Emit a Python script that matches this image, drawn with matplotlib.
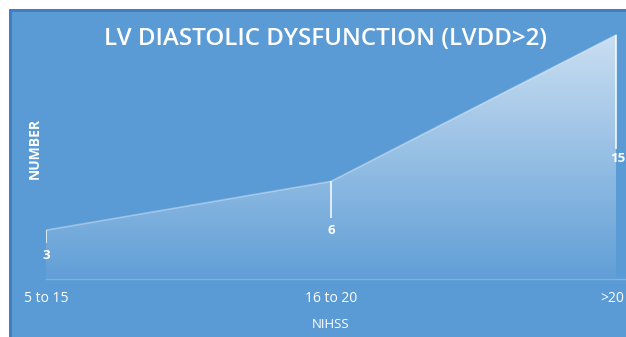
import numpy as np
import matplotlib
matplotlib.use("Agg")
import matplotlib.pyplot as plt
from matplotlib.patches import Rectangle, Polygon

# Data
categories = ["5 to 15", "16 to 20", ">20"]
values = [3, 6, 15]
title = "LV DIASTOLIC DYSFUNCTION (LVDD>2)"
x_title = "NIHSS"
y_title = "NUMBER"

W, H = 626, 337
BG = "#5B9BD5"
BORDER = "#3E7FC1"
FONT = ["Open Sans", "DejaVu Sans"]

fig = plt.figure(figsize=(W / 100, H / 100), dpi=100)
fig.patch.set_facecolor("white")

# Slide panel with darker frame on top/left
for rect in [
    Rectangle((10 / W, 0), 1, (H - 10) / H, facecolor=BG),
    Rectangle((9 / W, 0), 3 / W, (H - 9) / H, facecolor=BORDER),
    Rectangle((9 / W, (H - 12) / H), 1, 3 / H, facecolor=BORDER),
]:
    rect.set_transform(fig.transFigure)
    rect.set_edgecolor("none")
    rect.set_zorder(-5)
    fig.patches.append(rect)

x = np.arange(len(categories))
px_per_unit = 285.0
x0_px, y0_px = 46, 279
unit_px = (y0_px - 35) / max(values)

ax = fig.add_axes([x0_px / W, (H - y0_px) / H, (W - x0_px) / W, (y0_px - 12) / H])
ax.set_zorder(2)
ax.patch.set_alpha(0)
for s in ax.spines.values():
    s.set_visible(False)
ax.set_xticks([])
ax.set_yticks([])

# Baseline
ax.axhline(0, color="#7FB2E2", lw=1.0, zorder=2, clip_on=False)

# Gradient area fill (white, fading towards the baseline)
ymax = max(values)
rgba = np.ones((256, 1, 4))
rgba[:, 0, 3] = np.linspace(0.04, 0.68, 256)
poly = Polygon(np.column_stack([np.r_[x, x[::-1]], np.r_[values, np.zeros(len(x))]]),
               closed=True, facecolor="none", edgecolor="none")
ax.add_patch(poly)
im = ax.imshow(rgba, extent=[x[0], x[-1], 0, ymax], origin="lower", aspect="auto",
               interpolation="bilinear", zorder=1)
im.set_clip_path(poly)
ax.set_xlim(0, (W - x0_px) / px_per_unit)
ax.set_ylim(0, (y0_px - 12) / unit_px)
ax.plot(x, values, color="white", alpha=0.35, lw=1.2, zorder=2)

# Leader lines and data labels
leader_end = [2.2, 3.75, 8.0]
label_pos = [(0, 1.47), (1, 3.0), (2.005, 7.4)]
for xi, v, le, (lx, ly) in zip(x, values, leader_end, label_pos):
    ax.plot([xi, xi], [v, le], color="white", lw=1.2, alpha=0.9, zorder=3,
            solid_capstyle="butt")
    ax.text(lx, ly, str(v), color="white", fontsize=9.5, fontweight="bold",
            ha="center", va="center", family=FONT, zorder=4)

# Category labels
cat_x = [0, 1, 1.985]
for cx, c in zip(cat_x, categories):
    ax.text(cx, -(298 - y0_px) / unit_px, c, color="white", fontsize=10,
            ha="center", va="center", family=FONT, clip_on=False)

fig.text(331 / W, 1 - 325 / H, x_title, color="white", fontsize=9.5, ha="center",
         va="center", family=FONT)
fig.text(35 / W, 1 - 148 / H, y_title, color="white", fontsize=10, fontweight="bold",
         ha="center", va="center", rotation=90, family=FONT)
fig.text(325.5 / W, 1 - 45 / H, title, color="white", fontsize=17.4, fontweight="semibold",
         ha="center", va="baseline", family=FONT)

fig.savefig("out.png", dpi=100, facecolor=fig.get_facecolor())
